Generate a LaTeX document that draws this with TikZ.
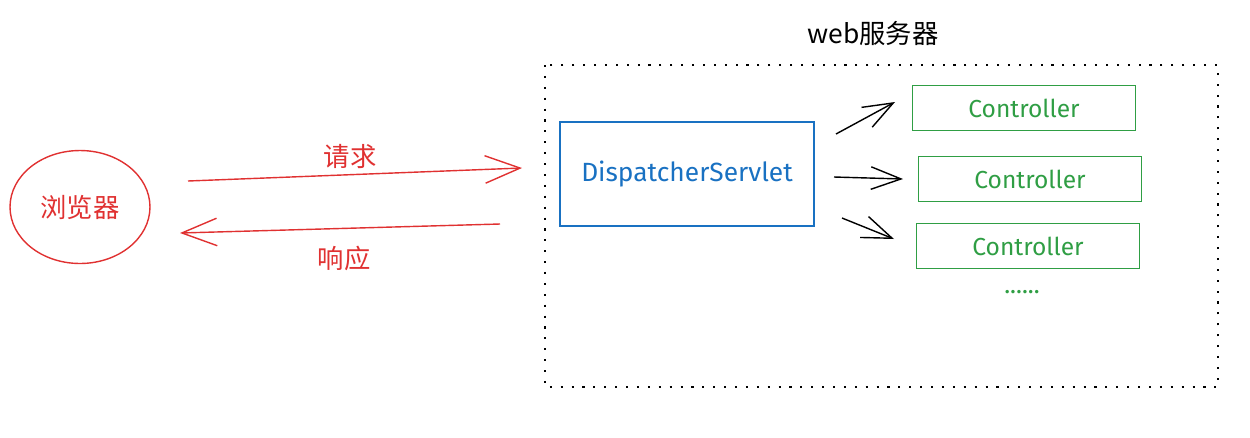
\documentclass[tikz,border=0pt]{standalone}
\usepackage{fontspec}
\setsansfont{Fira Sans}
\newfontfamily\cjk{Noto Sans CJK SC}
\usetikzlibrary{arrows.meta,shapes.geometric}

\definecolor{sketchred}{HTML}{E03131}
\definecolor{sketchblue}{HTML}{1971C2}
\definecolor{sketchgreen}{HTML}{2F9E44}

\begin{document}
\begin{tikzpicture}[x=0.02cm,y=-0.02cm]

    \tikzset{
      BrowserStyle/.style = { ellipse, draw = sketchred, line width = 0.8pt,
                  minimum width = 2.8cm, minimum height = 2.26cm,
                  text = sketchred, font = \cjk\fontsize{15}{18}\selectfont },
      ServerBox/.style = { rectangle, draw = sketchblue, line width = 0.8pt,
                  minimum width = 5.08cm, minimum height = 2.08cm,
                  text = sketchblue, font = \sffamily\fontsize{15}{18}\selectfont },
      CtrlStyle/.style = { rectangle, draw = sketchgreen, line width = 0.8pt,
                  minimum width = 4.46cm, minimum height = 0.9cm,
                  text = sketchgreen, font = \sffamily\fontsize{14}{17}\selectfont },
      LabelStyle/.style = { text = sketchred, font = \cjk\fontsize{15}{18}\selectfont },
      EdgeStyle/.style = { line width = 0.8pt,
                  -{Straight Barb[length = 0.7cm, width = 0.55cm]} },
      CallStyle/.style = { line width = 0.8pt, black,
                  -{Straight Barb[length = 0.6cm, width = 0.45cm]} }
    }
    \useasboundingbox (0,0) rectangle (1250,437);

    % browser
    \node[BrowserStyle] (browser) at (80,207) {浏览器};

    % web server
    \draw[black, line width = 1.2pt, dash pattern = on 1.2pt off 5pt]
      (545,65) rectangle (1218,387);
    \node[font = \cjk\fontsize{15}{18}\selectfont] (server) at (873,33) {web服务器};

    \node[ServerBox] (dispatcher) at (687,174) {DispatcherServlet};

    \node[CtrlStyle] (ctrl1) at (1024,108) {Controller};
    \node[CtrlStyle] (ctrl2) at (1030,179) {Controller};
    \node[CtrlStyle] (ctrl3) at (1028,246) {Controller};
    \node[text = sketchgreen, font = \sffamily\fontsize{14}{17}\selectfont] (more) at (1022,292) {......};

    % request / response
    \coordinate (reqA) at (188,181);
    \coordinate (reqB) at (522,168);
    \coordinate (resA) at (500,224);
    \coordinate (resB) at (180,233);
    \draw[EdgeStyle, sketchred] (reqA) -- (reqB);
    \draw[EdgeStyle, sketchred] (resA) -- (resB);
    \node[LabelStyle] (req) at (350,157) {请求};
    \node[LabelStyle] (res) at (344,258) {响应};

    % dispatch
    \coordinate (c1a) at (836,134);
    \coordinate (c1b) at (895,102);
    \coordinate (c2a) at (834,177);
    \coordinate (c2b) at (903,179);
    \coordinate (c3a) at (842,218);
    \coordinate (c3b) at (894,239);
    \draw[CallStyle] (c1a) -- (c1b);
    \draw[CallStyle] (c2a) -- (c2b);
    \draw[CallStyle] (c3a) -- (c3b);
\end{tikzpicture}
\end{document}
